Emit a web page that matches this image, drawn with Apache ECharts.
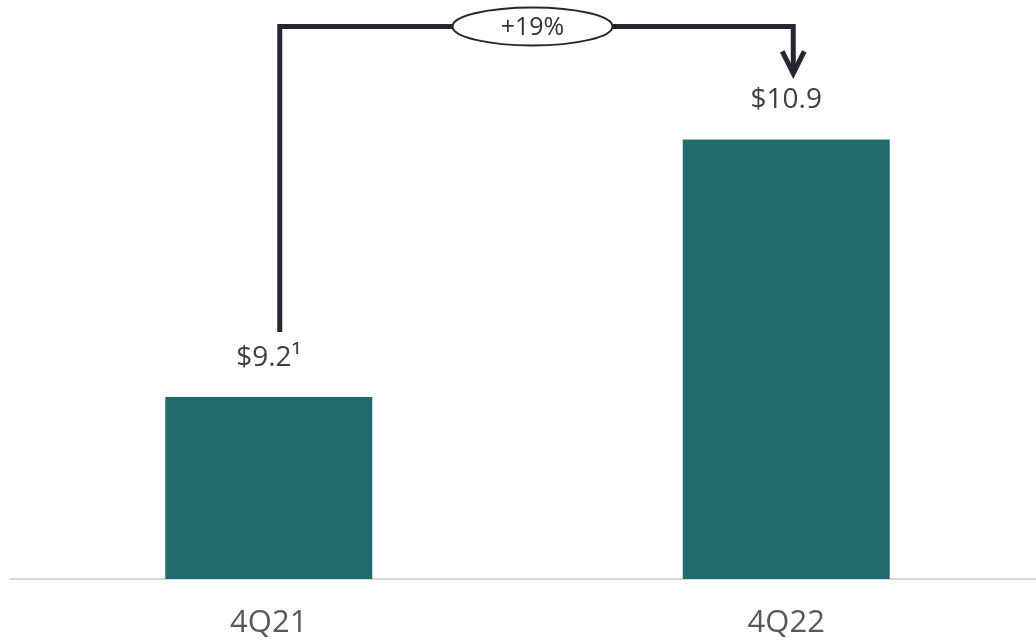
<!DOCTYPE html>
<html>
<head>
<meta charset="utf-8">
<script src="https://cdn.jsdelivr.net/npm/echarts@6/dist/echarts.min.js"></script>
<style>
html,body{margin:0;padding:0;background:#fff;}
#chart{width:1036px;height:643px;}
</style>
</head>
<body>
<div id="chart"></div>
<script>
const categories = ['4Q21', '4Q22'];
const values = [9.2, 10.9];
const valueLabels = ['$9.2\u00B9', '$10.9'];
const changeLabel = '+19%';

const chart = echarts.init(document.getElementById('chart'));
const font = '"Open Sans", "Noto Sans", sans-serif';

chart.setOption({
  animation: false,
  grid: { left: 10, width: 1035, top: 3, height: 576, containLabel: false, outerBoundsMode: 'none' },
  xAxis: {
    type: 'category',
    data: categories,
    axisLine: { lineStyle: { color: '#d9d9d9', width: 2 } },
    axisTick: { show: false },
    axisLabel: { color: '#595959', fontSize: 31, fontFamily: font, margin: 29 }
  },
  yAxis: {
    type: 'value', min: 8, max: 11.8,
    show: false, splitLine: { show: false }
  },
  series: [{
    type: 'bar',
    data: values,
    barWidth: '40%',
    itemStyle: { color: '#216b6f' },
    label: {
      show: true, position: 'top', distance: 25,
      color: '#404040', fontSize: 28, fontFamily: font,
      formatter: p => valueLabels[p.dataIndex]
    }
  }]
});

const p1 = chart.convertToPixel({ seriesIndex: 0 }, [0, values[0]]);
const p2 = chart.convertToPixel({ seriesIndex: 0 }, [1, values[1]]);
const xa = p1[0] + 11, xb = p2[0] + 7;
const yTop = p2[1] - 113;
const yStart = p1[1] - 65;
const yTip = p2[1] - 66;
const stroke = '#262633';
const cx = (xa + xb) / 2 - 4;

chart.setOption({
  graphic: [
    { type: 'polyline', shape: { points: [[xa, yStart], [xa, yTop], [xb, yTop], [xb, yTip - 3]] },
      style: { stroke: stroke, lineWidth: 5, fill: null, lineJoin: 'miter' }, z: 10 },
    { type: 'polyline', shape: { points: [[xb - 11, yTip - 22], [xb, yTip], [xb + 11, yTip - 22]] },
      style: { stroke: stroke, lineWidth: 5, fill: null, lineJoin: 'miter' }, z: 10 },
    { type: 'ellipse', shape: { cx: cx, cy: yTop, rx: 80, ry: 19 },
      style: { fill: '#fff', stroke: stroke, lineWidth: 2 }, z: 11 },
    { type: 'text', x: cx, y: yTop + 1,
      style: { text: changeLabel, fill: '#333338', font: '25px ' + font, align: 'center', verticalAlign: 'middle' }, z: 12 }
  ]
});
</script>
</body>
</html>
